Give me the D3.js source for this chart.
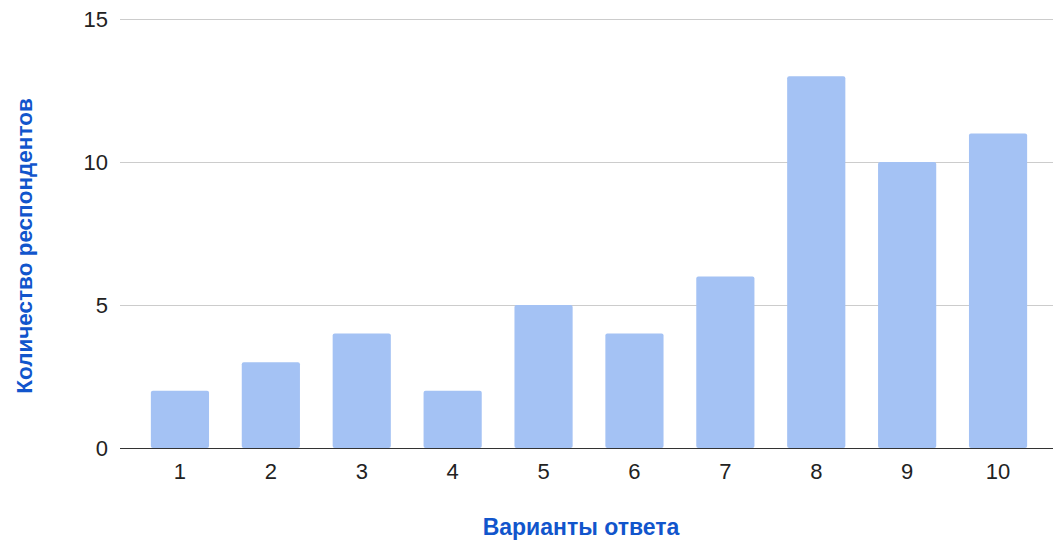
<!DOCTYPE html>
<html>
<head>
<meta charset="utf-8">
<script src="https://cdn.jsdelivr.net/npm/d3@7"></script>
<style>
 body { margin: 0; background: #fff; }
 text { font-family: "Liberation Sans", Arial, sans-serif; }
</style>
</head>
<body>
<svg id="chart" width="1053" height="543"></svg>
<script>
 "use strict"

 // data
 var categories = ["1", "2", "3", "4", "5", "6", "7", "8", "9", "10"];
 var counts = [2, 3, 4, 2, 5, 4, 6, 13, 10, 11];
 var yTicks = [0, 5, 10, 15];
 var xTitle = "Варианты ответа";
 var yTitle = "Количество респондентов";

 var svg = d3.select("#chart");

 var gridLeft = 120, gridRight = 1053;

 var x = d3.scaleBand()
   .domain(categories)
   .range([134.5, 1043.5])
   .paddingInner(0.36)
   .paddingOuter(0.18);

 var y = d3.scaleLinear()
   .domain([0, 15])
   .range([448, 19]);

 // gridlines
 var grid_g = svg.append("g").attr("class", "grid");
 grid_g.selectAll("line")
   .data(yTicks.filter(function(t){ return t !== 0; }))
   .enter()
   .append("line")
   .attr("x1", gridLeft)
   .attr("x2", gridRight)
   .attr("y1", function(t){ return y(t) + 0.5; })
   .attr("y2", function(t){ return y(t) + 0.5; })
   .attr("stroke", "#cccccc")
   .attr("stroke-width", 1);

 // y tick labels
 svg.append("g")
   .selectAll("text")
   .data(yTicks)
   .enter()
   .append("text")
   .attr("x", 108)
   .attr("y", function(t){ return y(t); })
   .attr("dy", "0.36em")
   .attr("text-anchor", "end")
   .attr("font-size", 22)
   .attr("fill", "#222")
   .text(function(t){ return t; });

 // bars
 svg.append("g")
   .selectAll("rect")
   .data(counts)
   .enter()
   .append("rect")
   .attr("x", function(d, i){ return x(categories[i]); })
   .attr("y", function(d){ return y(d); })
   .attr("width", x.bandwidth())
   .attr("height", function(d){ return y(0) - y(d); })
   .attr("rx", 2)
   .attr("fill", "#a4c2f4");

 // baseline
 svg.append("line")
   .attr("x1", gridLeft)
   .attr("x2", gridRight)
   .attr("y1", y(0) + 0.5)
   .attr("y2", y(0) + 0.5)
   .attr("stroke", "#333")
   .attr("stroke-width", 1);

 // x tick labels
 svg.append("g")
   .selectAll("text")
   .data(categories)
   .enter()
   .append("text")
   .attr("x", function(c){ return x(c) + x.bandwidth() / 2; })
   .attr("y", 479)
   .attr("text-anchor", "middle")
   .attr("font-size", 22)
   .attr("fill", "#222")
   .text(function(c){ return c; });

 // axis titles
 svg.append("text")
   .attr("x", 581)
   .attr("y", 535)
   .attr("text-anchor", "middle")
   .attr("font-size", 23)
   .attr("font-weight", "bold")
   .attr("fill", "#1155cc")
   .text(xTitle);

 svg.append("text")
   .attr("transform", "translate(32,246) rotate(-90)")
   .attr("text-anchor", "middle")
   .attr("font-size", 22.5)
   .attr("font-weight", "bold")
   .attr("fill", "#1155cc")
   .text(yTitle);
</script>
</body>
</html>
